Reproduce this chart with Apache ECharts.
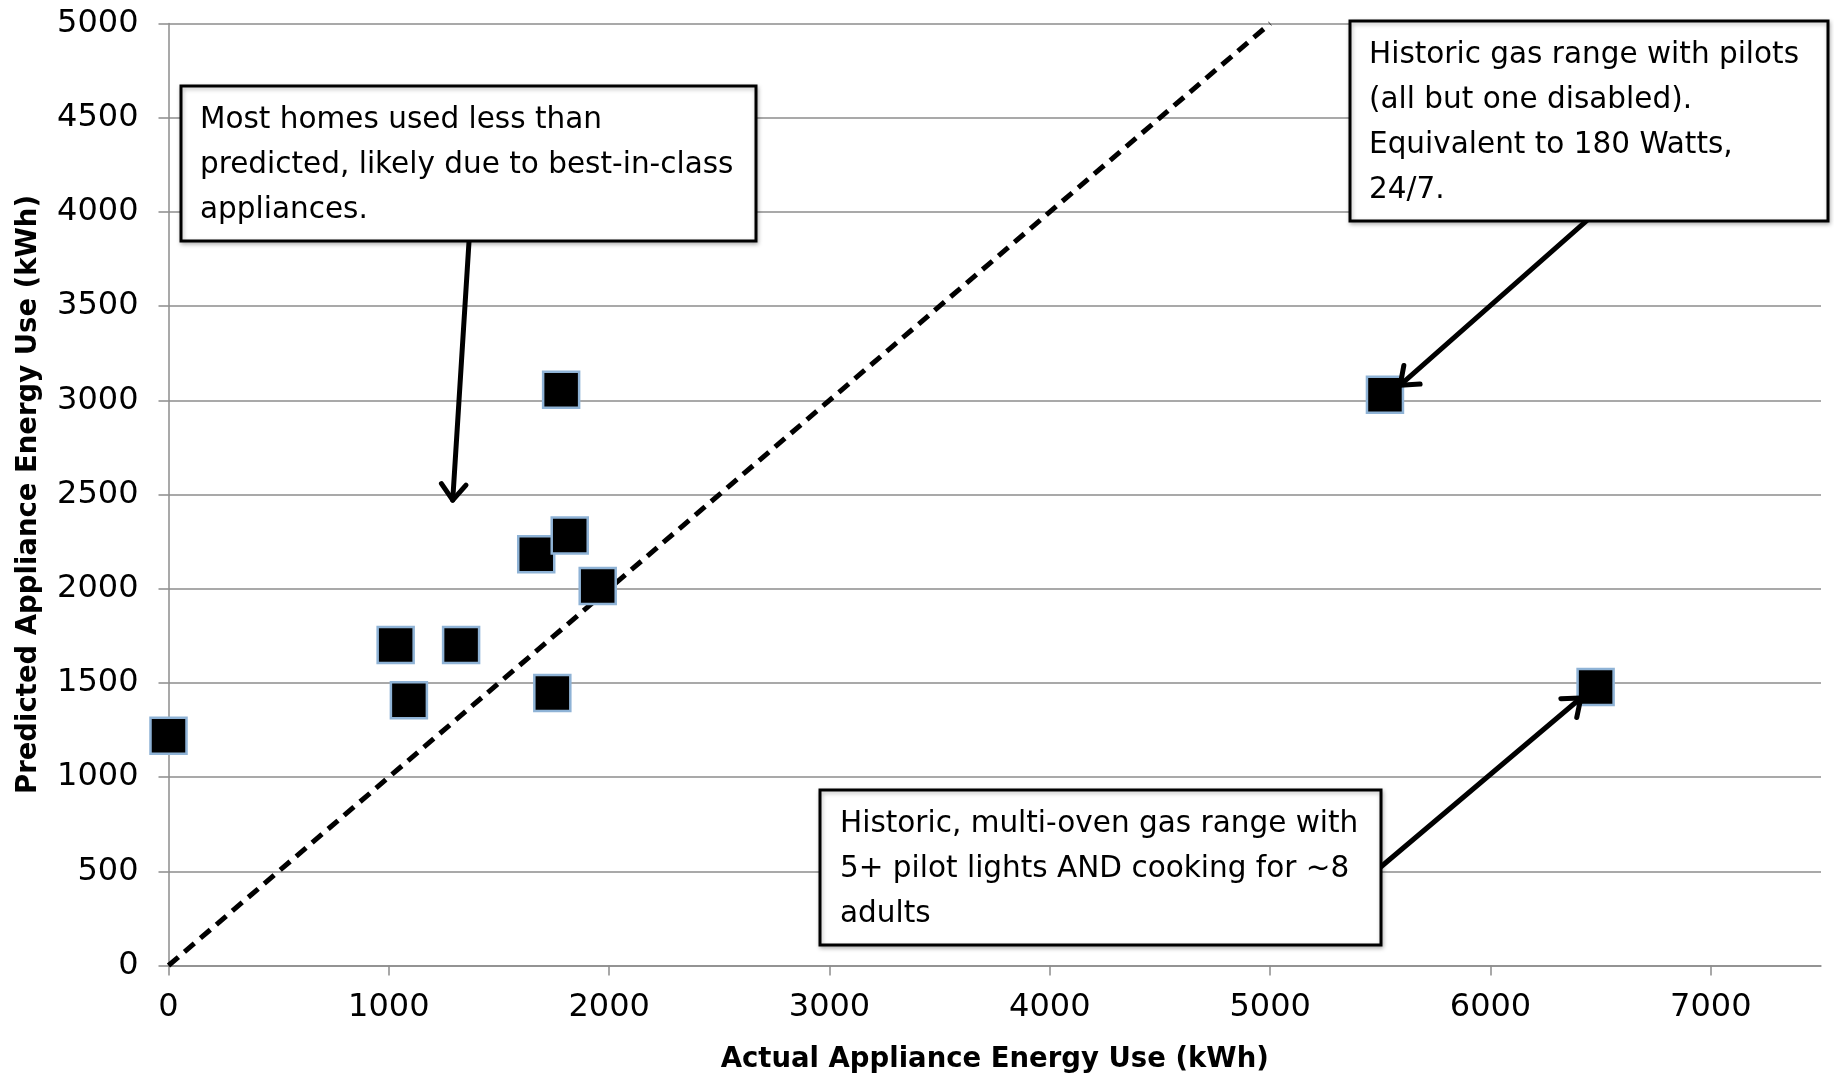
<!DOCTYPE html>
<html><head><meta charset="utf-8">
<script src="https://cdn.jsdelivr.net/npm/echarts@6/dist/echarts.min.js"></script>
<style>html,body{margin:0;padding:0;background:#fff}#c{width:1834px;height:1074px}</style>
</head><body><div id="c"></div>
<script>
// ---- data ----
const actualUse    = [0, 1031, 1091, 1328, 1669, 1742, 1782, 1821, 1948, 5521, 6477];
const predictedUse = [1220, 1701, 1408, 1701, 2183, 1446, 3056, 2282, 2014, 3030, 1478];
const parityX = [0, 5000];
const parityY = [0, 5000];
const xTickValues = [0, 1000, 2000, 3000, 4000, 5000, 6000, 7000];
const xAxisTitle = 'Actual Appliance Energy Use (kWh)';
const yAxisTitle = 'Predicted Appliance Energy Use (kWh)';
const note1 = ['Most homes used less than', 'predicted, likely due to best-in-class', 'appliances.'];
const note2 = ['Historic gas range with pilots', '(all but one disabled).', 'Equivalent to 180 Watts,', '24/7.'];
const note3 = ['Historic, multi-oven gas range with', '5+ pilot lights AND cooking for ~8', 'adults'];
// arrow endpoints in data space [from, to]
const arrow1 = [[1364, 3845], [1290, 2470]];
const arrow2 = [[6438, 3955], [5590, 3080]];
const arrow3 = [[5499, 520], [6410, 1420]];

const FONT = '"DejaVu Sans", sans-serif';
const GRID = '#8c8c8c';

const chart = echarts.init(document.getElementById('c'), null, {renderer: 'canvas'});
const scatterData = actualUse.map((x, i) => [x, predictedUse[i]]);
const lineData = parityX.map((x, i) => [x, parityY[i]]);
const plain = v => String(v);

chart.setOption({
  animation: false,
  backgroundColor: '#fff',
  grid: {left: 168.5, right: 13, top: 23.5, bottom: 108.5, containLabel: false, outerBoundsMode: 'none'},
  xAxis: {
    type: 'value', min: 0, max: 7500,
    name: xAxisTitle, nameLocation: 'middle', nameGap: 80,
    nameTextStyle: {fontFamily: FONT, fontWeight: 'bold', fontSize: 27.5, color: '#000'},
    axisLine: {show: true, onZero: false, lineStyle: {color: GRID, width: 1.5}},
    axisTick: {show: true, customValues: xTickValues, length: 10, lineStyle: {color: GRID, width: 1.5}},
    axisLabel: {customValues: xTickValues, formatter: plain, margin: 26, fontFamily: FONT, fontSize: 32, color: '#000'},
    splitLine: {show: false}
  },
  yAxis: {
    type: 'value', min: 0, max: 5000, interval: 500,
    name: yAxisTitle, nameLocation: 'middle', nameGap: 126, nameRotate: 90,
    nameTextStyle: {fontFamily: FONT, fontWeight: 'bold', fontSize: 27.5, color: '#000'},
    axisLine: {show: true, onZero: false, lineStyle: {color: GRID, width: 1.5}},
    axisTick: {show: true, length: 10, lineStyle: {color: GRID, width: 1.5}},
    axisLabel: {margin: 30, formatter: plain, fontFamily: FONT, fontSize: 32, color: '#000'},
    splitLine: {show: true, lineStyle: {color: GRID, width: 1.5}}
  },
  series: [
    {
      type: 'line', data: lineData, symbol: 'none', silent: true, z: 2,
      lineStyle: {color: '#000', width: 5, type: [13, 8]}
    },
    {
      type: 'scatter', data: scatterData, symbol: 'rect', symbolSize: 36, z: 3,
      itemStyle: {color: '#000', borderColor: '#8fb3d6', borderWidth: 2.5, opacity: 1}
    }
  ]
});

function px(p) { return chart.convertToPixel({gridIndex: 0}, p); }

function box(x, y, w, h, lines, tx, ty, lh) {
  return [
    {type: 'rect', z: 10, shape: {x: x, y: y, width: w, height: h},
     style: {fill: '#fff', stroke: '#000', lineWidth: 3, shadowBlur: 4, shadowColor: 'rgba(0,0,0,0.25)', shadowOffsetX: 1, shadowOffsetY: 2}},
    {type: 'text', z: 11, x: tx, y: ty,
     style: {text: lines.join('\n'), font: '29.5px ' + FONT, fill: '#000', lineHeight: lh, verticalAlign: 'top', align: 'left'}}
  ];
}

function arrow(a) {
  const s = px(a[0]), t = px(a[1]);
  const dx = t[0] - s[0], dy = t[1] - s[1];
  const L = Math.hypot(dx, dy), ux = dx / L, uy = dy / L;
  const len = 20, ang = 38 * Math.PI / 180;
  const rot = (x, y, th) => [x * Math.cos(th) - y * Math.sin(th), x * Math.sin(th) + y * Math.cos(th)];
  const r1 = rot(ux, uy, ang), r2 = rot(ux, uy, -ang);
  const p1 = [t[0] - r1[0] * len, t[1] - r1[1] * len];
  const p2 = [t[0] - r2[0] * len, t[1] - r2[1] * len];
  return [
    {type: 'line', z: 9, shape: {x1: s[0], y1: s[1], x2: t[0], y2: t[1]},
     style: {stroke: '#000', lineWidth: 5, lineCap: 'round'}},
    {type: 'polyline', z: 9, shape: {points: [p1, t, p2]},
     style: {stroke: '#000', lineWidth: 5, lineCap: 'round', lineJoin: 'round', fill: null}}
  ];
}

const elements = []
  .concat(arrow(arrow1), arrow(arrow2), arrow(arrow3))
  .concat(box(181, 86, 575, 155, note1, 200, 98, 45))
  .concat(box(1350, 21, 478, 200, note2, 1369, 33, 45))
  .concat(box(820, 790, 561, 155, note3, 840, 802, 45));

chart.setOption({graphic: {elements: elements}});
</script>
</body></html>
